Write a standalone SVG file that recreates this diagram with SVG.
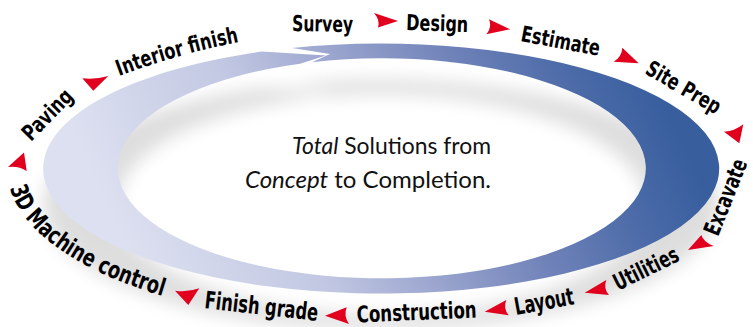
<svg xmlns="http://www.w3.org/2000/svg" width="753" height="327" viewBox="0 0 753 327">
<defs>
<style>
.lbl{font-family:"Liberation Sans Narrow","DejaVu Sans Condensed","Liberation Sans",sans-serif;font-weight:bold;fill:#000;}
.arr{fill:#e1001e;}
.ctr{font-family:Lato,"Open Sans",sans-serif;fill:#111;}
</style>
<linearGradient id="bandGrad" gradientUnits="userSpaceOnUse" x1="150" y1="300" x2="650" y2="70">
<stop offset="0" stop-color="#dde0f0"/>
<stop offset="0.3" stop-color="#c2c8e3"/>
<stop offset="0.48" stop-color="#9ca6cf"/>
<stop offset="0.68" stop-color="#7083b9"/>
<stop offset="0.86" stop-color="#4c6ba8"/>
<stop offset="1" stop-color="#385e9e"/>
</linearGradient>
<filter id="soft" filterUnits="userSpaceOnUse" x="-40" y="-40" width="840" height="420"><feGaussianBlur stdDeviation="9"/></filter>
<path id="band" d="M292,48 A338 125 0 1 1 262,51.6 L326,55.5 L300,63.7 A264 110 0 1 0 312,62.2 L330,54 Z"/>
<path id="p-survey" d="M292,31 L354,32"/>
<path id="p-design" d="M406,30 L468,32"/>
<path id="p-estimate" d="M520,41 L599,56"/>
<path id="p-siteprep" d="M644,73 L716,115"/>
<path id="p-excavate" d="M718,237 L748,162"/>
<path id="p-utilities" d="M618,291 L681,260"/>
<path id="p-layout" d="M516,315 L576,304"/>
<path id="p-construction" d="M357,322.5 L477,317.5"/>
<path id="p-finish" d="M204,308 L318,321"/>
<path id="p-3d" d="M10,188 A382 155 0 0 0 166,297"/>
<path id="p-paving" d="M31,142 L75,97"/>
<path id="p-interior" d="M119,76 A800 800 0 0 1 241,41.5"/>
</defs>
<rect width="753" height="327" fill="#fff"/>
<g id="ring">
<use href="#band" fill="#000" opacity="0.13" transform="translate(0,36)" filter="url(#soft)"/>
<use href="#band" fill="url(#bandGrad)"/>
</g>
<g id="tagline">
<text class="ctr" x="292" y="154" font-size="23" textLength="199" lengthAdjust="spacingAndGlyphs"><tspan font-style="italic">Total</tspan> Solutions from</text>
<text class="ctr" x="245" y="188" font-size="24" textLength="246" lengthAdjust="spacingAndGlyphs"><tspan font-style="italic">Concept</tspan> to Completion.</text>
</g>
<g id="label-survey"><text class="lbl" font-size="22"><textPath href="#p-survey" textLength="61" lengthAdjust="spacingAndGlyphs">Survey</textPath></text></g>
<g id="label-design"><text class="lbl" font-size="22"><textPath href="#p-design" textLength="62" lengthAdjust="spacingAndGlyphs">Design</textPath></text></g>
<g id="label-estimate"><text class="lbl" font-size="22"><textPath href="#p-estimate" textLength="80" lengthAdjust="spacingAndGlyphs">Estimate</textPath></text></g>
<g id="label-siteprep"><text class="lbl" font-size="22"><textPath href="#p-siteprep" textLength="83" lengthAdjust="spacingAndGlyphs">Site Prep</textPath></text></g>
<g id="label-excavate"><text class="lbl" font-size="23"><textPath href="#p-excavate" textLength="80" lengthAdjust="spacingAndGlyphs">Excavate</textPath></text></g>
<g id="label-utilities"><text class="lbl" font-size="23"><textPath href="#p-utilities" textLength="70" lengthAdjust="spacingAndGlyphs">Utilities</textPath></text></g>
<g id="label-layout"><text class="lbl" font-size="24"><textPath href="#p-layout" textLength="60" lengthAdjust="spacingAndGlyphs">Layout</textPath></text></g>
<g id="label-construction"><text class="lbl" font-size="23"><textPath href="#p-construction" textLength="120" lengthAdjust="spacingAndGlyphs">Construction</textPath></text></g>
<g id="label-finishgrade"><text class="lbl" font-size="24"><textPath href="#p-finish" textLength="114" lengthAdjust="spacingAndGlyphs">Finish grade</textPath></text></g>
<g id="label-3d"><text class="lbl" font-size="24"><textPath href="#p-3d" textLength="194" lengthAdjust="spacingAndGlyphs">3D Machine control</textPath></text></g>
<g id="label-paving"><text class="lbl" font-size="22"><textPath href="#p-paving" textLength="62" lengthAdjust="spacingAndGlyphs">Paving</textPath></text></g>
<g id="label-interior"><text class="lbl" font-size="22"><textPath href="#p-interior" textLength="125" lengthAdjust="spacingAndGlyphs">Interior finish</textPath></text></g>
<g id="connectors">
<path class="arr" d="M374,13 L398,21 L378,27.5 Q380.4,20.4 374,13 Z"/>
<path class="arr" d="M489,19.3 L510.3,29.3 L486.3,34.3 Q492.2,27.3 489,19.3 Z"/>
<path class="arr" d="M622.3,47.7 L638.7,63.3 L613.7,61.7 Q622.1,56.4 622.3,47.7 Z"/>
<path class="arr" d="M743.3,124.3 L739.3,143.3 L724,131.7 Q734.8,131.1 743.3,124.3 Z"/>
<path class="arr" d="M701.3,235 L688,250 L713.7,246 Q703.6,242.4 701.3,235 Z"/>
<path class="arr" d="M606.3,280 L584.7,292.7 L609,295 Q603.1,288.5 606.3,280 Z"/>
<path class="arr" d="M506.3,300 L484.7,311.7 L508.7,315.3 Q502.9,308.5 506.3,300 Z"/>
<path class="arr" d="M346.7,307.3 L325,315.7 L349,324 Q343.3,315.7 346.7,307.3 Z"/>
<path class="arr" d="M175,290.7 L188.3,305 L199.3,288.3 Q187.4,292.6 175,290.7 Z"/>
<path class="arr" d="M8,167 L24,152.5 L26.7,171 Q18.7,165.7 8,167 Z"/>
<path class="arr" d="M82.3,78.3 L93.3,90.7 L108.3,76 Q94.9,79.9 82.3,78.3 Z"/>
</g>
</svg>
